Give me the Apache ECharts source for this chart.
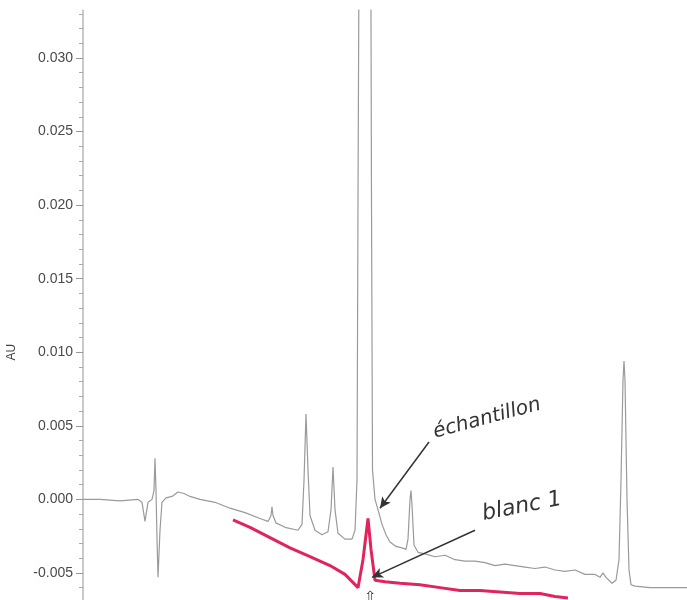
<!DOCTYPE html>
<html><head><meta charset="utf-8">
<script src="https://cdn.jsdelivr.net/npm/echarts@6/dist/echarts.min.js"></script>
<style>html,body{margin:0;padding:0;background:#fff}#c{width:687px;height:600px}</style>
</head><body><div id="c"></div>
<script>
// Sample trace (échantillon): time (min) and absorbance (AU)
const sampleT = [0,0.85,1.85,2.75,2.95,3.1,3.25,3.45,3.55,3.6,3.65,3.7,3.75,3.85,3.95,4.15,4.45,4.75,5.05,5.35,5.85,6.6,7.35,8.1,8.85,9.25,9.4,9.45,9.5,9.65,10.1,10.75,10.95,11.05,11.15,11.25,11.35,11.6,11.95,12.25,12.4,12.5,12.6,12.75,13.1,13.45,13.6,13.7,13.75,13.825,14.1,14.375,14.425,14.475,14.6,14.75,14.95,15.15,15.35,15.65,15.95,16.15,16.25,16.35,16.4,16.45,16.55,16.75,17.1,17.6,18.1,18.6,19.1,19.6,20.1,20.6,21.1,21.6,22.1,22.6,23.1,23.6,24.1,24.6,25.1,25.6,25.85,26.0,26.15,26.45,26.65,26.8,26.9,27.0,27.05,27.1,27.2,27.3,27.4,27.6,28.35,29.1,30.2];
const sampleV = [0.0000,0.0000,-0.0001,0.0000,-0.0002,-0.0015,-0.0002,0.0000,0.0006,0.0028,0.0006,-0.0027,-0.0053,-0.0021,-0.0002,0.0001,0.0002,0.0005,0.0004,0.0002,0.0000,-0.0002,-0.0006,-0.0009,-0.0013,-0.0015,-0.0011,-0.0005,-0.0011,-0.0016,-0.0019,-0.0021,-0.0017,0.0013,0.0058,0.0020,-0.0011,-0.0021,-0.0024,-0.0022,-0.0007,0.0022,-0.0007,-0.0023,-0.0027,-0.0027,-0.0021,0.0013,0.0203,0.045,0.080,0.045,0.0203,0.0020,0.0000,-0.0007,-0.0017,-0.0024,-0.0029,-0.0032,-0.0033,-0.0034,-0.0027,0.0000,0.0006,-0.0004,-0.0031,-0.0036,-0.0037,-0.0039,-0.0038,-0.0041,-0.0042,-0.0042,-0.0043,-0.0045,-0.0044,-0.0045,-0.0046,-0.0047,-0.0046,-0.0048,-0.0049,-0.0048,-0.0051,-0.0051,-0.0053,-0.0050,-0.0053,-0.0057,-0.0055,-0.0041,0.0013,0.0081,0.0094,0.0081,0.0000,-0.0048,-0.0058,-0.0059,-0.0060,-0.0060,-0.0060];
// Blank trace (blanc 1), hand drawn
const blankT = [7.5,8.35,9.35,10.35,11.35,12.35,13.1,13.75,14.0,14.25,14.4,14.6,15.1,15.85,16.85,17.85,18.85,19.85,20.85,21.85,22.85,23.6,24.25];
const blankV = [-0.0014,-0.0019,-0.0026,-0.0033,-0.0039,-0.0045,-0.0051,-0.0060,-0.0041,-0.0013,-0.0034,-0.0055,-0.0056,-0.0057,-0.0058,-0.0060,-0.0062,-0.0062,-0.0063,-0.0064,-0.0064,-0.0066,-0.0067];
// Y tick labels
const yLabels = [-0.005,0.000,0.005,0.010,0.015,0.020,0.025,0.030];
const yMinor = [-0.006,-0.005,-0.004,-0.003,-0.002,-0.001,0,0.001,0.002,0.003,0.004,0.005,0.006,0.007,0.008,0.009,0.010,0.011,0.012,0.013,0.014,0.015,0.016,0.017,0.018,0.019,0.020,0.021,0.022,0.023,0.024,0.025,0.026,0.027,0.028,0.029,0.030,0.031,0.032,0.033];
const yMin = -0.00684, yMax = 0.03326;
// Annotation arrows [fromT, fromV, toT, toV]
const arrowSample = [17.3, 0.0039, 14.85, -0.0006];
const arrowBlank = [19.6, -0.0021, 14.45, -0.0053];
const labelSample = ['échantillon', 20.2, 0.0055];
const labelBlank = ['blanc 1', 21.95, -0.0005];

const chart = echarts.init(document.getElementById('c'), null, {renderer:'canvas'});
const zip = (a,b)=>a.map((x,i)=>[x,b[i]]);
const option = {
  animation:false,
  grid:{left:83,right:0,top:10,bottom:0},
  xAxis:{type:'value',min:0,max:30.2,show:false},
  yAxis:[{
    type:'value',min:yMin,max:yMax,position:'left',
    axisLine:{show:true,lineStyle:{color:'#b8b8b8',width:1.5}},
    axisTick:{show:true,length:4,customValues:yMinor,lineStyle:{color:'#aaa'}},
    axisLabel:{show:true,customValues:yLabels,margin:10,color:'#4a4a4a',fontSize:14,fontFamily:'Liberation Sans',
      formatter:v=>v.toFixed(3)},
    splitLine:{show:false}
  },{
    type:'value',min:yMin,max:yMax,position:'left',
    axisLine:{show:false},
    axisTick:{show:true,length:7,customValues:yLabels,lineStyle:{color:'#999'}},
    axisLabel:{show:false},splitLine:{show:false}
  }],
  series:[{
    type:'line',data:zip(sampleT,sampleV),showSymbol:false,clip:true,
    lineStyle:{color:'#9a9a9a',width:1.2},
    markLine:{silent:true,symbol:['none','arrow'],symbolSize:[8,11],
      lineStyle:{color:'#333',width:1.5,type:'solid'},label:{show:false},
      data:[
        [{coord:[arrowSample[0],arrowSample[1]]},{coord:[arrowSample[2],arrowSample[3]]}],
        [{coord:[arrowBlank[0],arrowBlank[1]]},{coord:[arrowBlank[2],arrowBlank[3]]}]
      ]}
  },{
    type:'line',data:zip(blankT,blankV),showSymbol:false,clip:true,
    lineStyle:{color:'#e0245e',width:3}
  }]
};
chart.setOption(option);
const p1 = chart.convertToPixel({gridIndex:0},[labelSample[1],labelSample[2]]);
const p2 = chart.convertToPixel({gridIndex:0},[labelBlank[1],labelBlank[2]]);
const pAU = chart.convertToPixel({gridIndex:0},[0,0.010]);
const pUp = chart.convertToPixel({gridIndex:0},[14.35,-0.0062]);
chart.setOption({graphic:[
  {type:'text',x:p1[0],y:p1[1],rotation:15*Math.PI/180,style:{text:labelSample[0],fill:'#333',font:'italic 20px "DejaVu Sans"',align:'center',verticalAlign:'middle'}},
  {type:'text',x:p2[0],y:p2[1],rotation:11*Math.PI/180,style:{text:labelBlank[0],fill:'#333',font:'italic 22px "DejaVu Sans"',align:'center',verticalAlign:'middle'}},
  {type:'text',x:12,y:pAU[1],rotation:Math.PI/2,style:{text:'AU',fill:'#444',font:'12px "Liberation Sans"',align:'center',verticalAlign:'middle'}},
  {type:'text',x:pUp[0],y:pUp[1],style:{text:'⇧',fill:'#333',font:'14px "DejaVu Sans"',align:'center',verticalAlign:'top'}}
]});
</script></body></html>
